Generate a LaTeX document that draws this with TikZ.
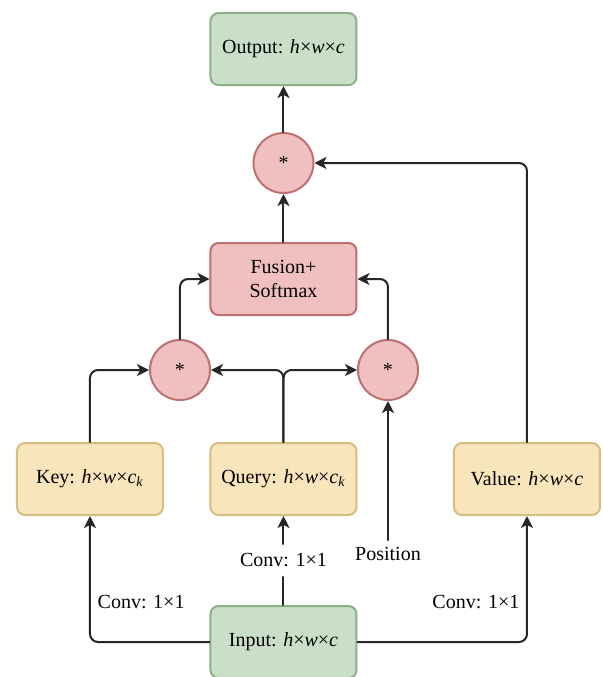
\documentclass[tikz,border=0pt]{standalone}
\usepackage{fontspec}
\setmainfont{Liberation Serif}
\usetikzlibrary{arrows.meta}
\definecolor{boxgreen}{RGB}{201,223,200}
\definecolor{linegreen}{RGB}{138,178,132}
\definecolor{boxyellow}{RGB}{248,229,188}
\definecolor{lineyellow}{RGB}{214,188,128}
\definecolor{boxred}{RGB}{240,192,192}
\definecolor{linered}{RGB}{190,112,112}
\newcommand{\hwc}[1]{\textit{h}×\textit{w}×\textit{c}#1}
\begin{document}
\begin{tikzpicture}[x=0.5pt, y=-0.5pt, font=\normalsize, line join=round, line cap=round, >={Stealth[length=6pt,width=6pt,inset=1.6pt]},
	greenbox/.style={draw=linegreen, fill=boxgreen, line width=1pt, rounded corners=4pt, minimum width=73pt, minimum height=36pt},
	yellowbox/.style={draw=lineyellow, fill=boxyellow, line width=1pt, rounded corners=4pt, minimum width=73pt, minimum height=36pt},
	redbox/.style={draw=linered, fill=boxred, line width=1pt, rounded corners=4pt, minimum width=73pt, minimum height=36pt, align=center},
	mul/.style={circle, draw=linered, fill=boxred, line width=1pt, minimum size=30pt, inner sep=0pt},
	link/.style={->, line width=1pt, draw=black!85, rounded corners=4pt}]
			\useasboundingbox (0,0) rectangle (603,677);
			% boxes
			\node[greenbox] (output) at (283.5,49) {Output: \hwc{}};
			\node[mul] (topmul) at (283.5,163) {*};
			\node[redbox] (fusion) at (283.5,279) {Fusion+\\Softmax};
			\node[mul] (lmul) at (180,370) {*};
			\node[mul] (rmul) at (388,370) {*};
			\node[yellowbox] (key) at (90,479) {Key: \hwc{\textsubscript{\textit{k}}}};
			\node[yellowbox] (query) at (283.5,479) {Query: \hwc{\textsubscript{\textit{k}}}};
			\node[yellowbox] (value) at (527,479) {Value: \hwc{}};
			\node[greenbox] (input) at (283.5,642) {Input: \hwc{}};
			\node (posn) at (388,554) {Position};
			% connectors
			\draw[link] (input.west) -| node[pos=0.66, right]{Conv: 1×1} (key.south);
			\draw[link] (input) -- node[fill=white, inner ysep=4.5pt]{Conv: 1×1} (query);
			\draw[link] (input.east) -| node[pos=0.66, left]{Conv: 1×1} (value.south);
			\draw[link] (key.north) |- (lmul.west);
			\draw[link] (query.north) |- (lmul.east);
			\draw[link] (query.north) |- (rmul.west);
			\draw[link] (posn) -- (rmul);
			\draw[link] (lmul.north) |- (fusion.west);
			\draw[link] (rmul.north) |- (fusion.east);
			\draw[link] (fusion) -- (topmul);
			\draw[link] (value.north) |- (topmul.east);
			\draw[link] (topmul) -- (output);
\end{tikzpicture}
\end{document}
